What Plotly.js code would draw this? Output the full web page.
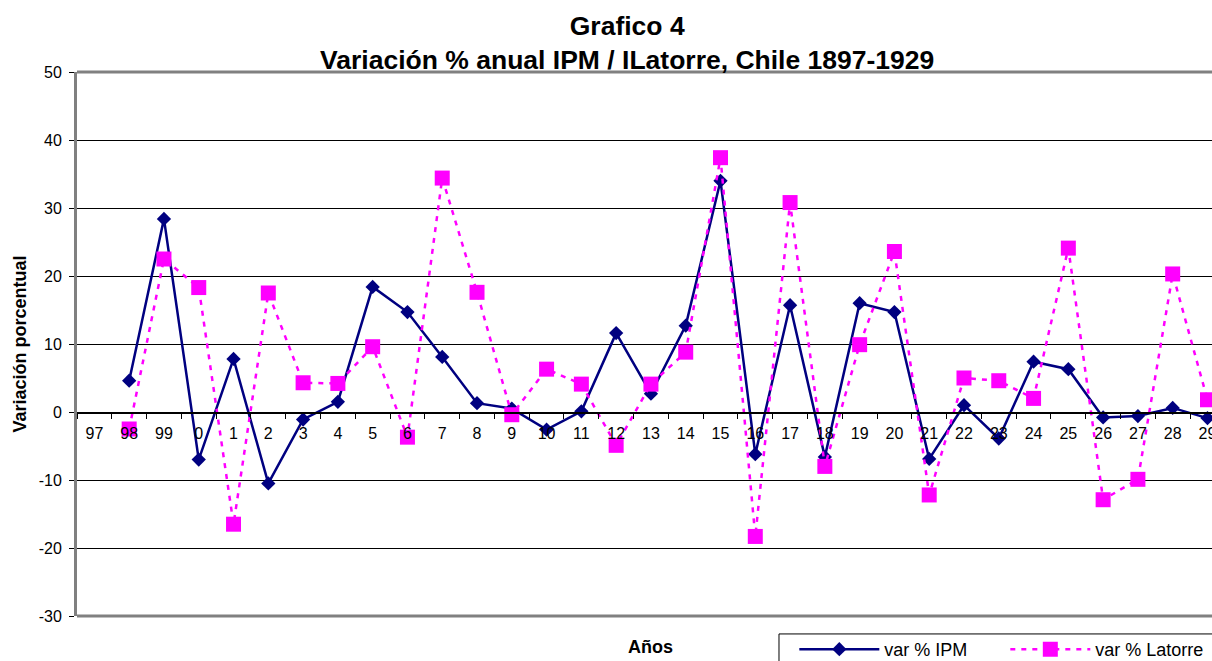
<!DOCTYPE html>
<html>
<head>
<meta charset="utf-8">
<script src="https://cdn.plot.ly/plotly-3.0.1.min.js"></script>
<style>html,body{margin:0;padding:0;background:#fff;}#chart{width:1212px;height:661px;}</style>
</head>
<body>
<div id="chart"></div>
<script>
// Years (tick labels)
const years = ['97','98','99','0','1','2','3','4','5','6','7','8','9','10','11','12','13','14','15','16','17','18','19','20','21','22','23','24','25','26','27','28','29'];
// var % IPM
const ipm = [null, 4.6, 28.4, -7.0, 7.8, -10.5, -1.1, 1.5, 18.4, 14.7, 8.1, 1.3, 0.5, -2.6, 0.1, 11.6, 2.7, 12.7, 34.0, -6.2, 15.7, -6.6, 16.0, 14.7, -6.9, 1.0, -3.9, 7.4, 6.3, -0.8, -0.6, 0.6, -0.9];
// var % Latorre
const latorre = [null, -2.5, 22.5, 18.3, -16.5, 17.5, 4.3, 4.2, 9.6, -3.7, 34.4, 17.6, -0.4, 6.3, 4.1, -4.9, 4.1, 8.8, 37.4, -18.3, 30.8, -8.0, 9.9, 23.6, -12.2, 5.0, 4.6, 2.0, 24.1, -12.9, -9.9, 20.3, 1.8];
// Y-axis tick values and labels
const yTickVals = [-30, -20, -10, 0, 10, 20, 30, 40, 50];
const yTickText = ['-30', '-20', '-10', '0', '10', '20', '30', '40', '50'];

const FONT = 'Liberation Sans, Arial, sans-serif';

const traces = [
  {
    x: years, y: ipm, name: 'var % IPM', type: 'scatter', mode: 'lines+markers',
    line: {color: '#000080', width: 2.5},
    marker: {symbol: 'diamond', size: 11, color: '#000080'},
    connectgaps: false
  },
  {
    x: years, y: latorre, name: 'var % Latorre', type: 'scatter', mode: 'lines+markers',
    line: {color: '#FF00FF', width: 2.5, dash: '5px,6px'},
    marker: {symbol: 'square', size: 15, color: '#FF00FF'},
    connectgaps: false
  }
];

const layout = {
  width: 1212, height: 661,
  margin: {l: 77, r: 0, t: 72, b: 45, autoexpand: false},
  paper_bgcolor: '#ffffff', plot_bgcolor: '#ffffff',
  font: {family: FONT, color: '#000000', size: 16},
  showlegend: true,
  title: {
    text: '<b>Grafico 4</b><br><b>Variación % anual IPM / ILatorre, Chile 1897-1929</b>',
    font: {family: FONT, size: 26.5, color: '#000000'},
    x: 0.5175, xanchor: 'center', xref: 'container',
    y: 0.9475, yanchor: 'top', yref: 'container'
  },
  xaxis: {
    type: 'category', categoryorder: 'array', categoryarray: years,
    range: [-0.5, 32.13],
    anchor: 'free', position: 0.375,
    showgrid: false, zeroline: false,
    showline: true, linecolor: '#000000', linewidth: 1.5,
    ticks: 'outside', tickson: 'boundaries', ticklen: 5, tickcolor: '#000000', tickwidth: 1,
    ticklabelstandoff: 6, tickangle: 0,
    tickfont: {family: FONT, size: 16, color: '#000000'},
    automargin: false,
    fixedrange: true
  },
  yaxis: {
    range: [-30, 50],
    tickmode: 'array', tickvals: yTickVals, ticktext: yTickText,
    showgrid: true, gridcolor: '#000000', gridwidth: 1,
    zeroline: false,
    showline: true, linecolor: '#808080', linewidth: 3,
    ticks: 'outside', ticklen: 5, tickcolor: '#000000', tickwidth: 1,
    ticklabelstandoff: 4,
    tickfont: {family: FONT, size: 16, color: '#000000'},
    title: {text: '<b>Variación porcentual</b>', font: {family: FONT, size: 18, color: '#000000'}, standoff: 8},
    automargin: false,
    fixedrange: true
  },
  legend: {
    orientation: 'h',
    x: 0.632, xanchor: 'left',
    y: -0.0276, yanchor: 'top',
    borderwidth: 0,
    bgcolor: 'rgba(0,0,0,0)',
    font: {family: FONT, size: 18, color: '#000000'},
    itemwidth: 80,
    entrywidth: 116,
    traceorder: 'normal'
  },
  annotations: [
    {text: '<b>Años</b>', xref: 'paper', yref: 'paper', x: 0.505, y: -0.057,
     xanchor: 'center', yanchor: 'middle', showarrow: false,
     font: {family: FONT, size: 18, color: '#000000'}}
  ],
  shapes: [
    {type: 'line', xref: 'paper', yref: 'paper', x0: 0, x1: 1, y0: 1, y1: 1, line: {color: '#808080', width: 3}, layer: 'above'},
    {type: 'line', xref: 'paper', yref: 'paper', x0: 0, x1: 1, y0: 0, y1: 0, line: {color: '#808080', width: 3}, layer: 'above'},
    {type: 'rect', xref: 'paper', yref: 'paper', x0: 0.6185, x1: 1.05, y0: -0.033, y1: -0.2, line: {color: '#000000', width: 1}, fillcolor: 'rgba(0,0,0,0)', layer: 'above'}
  ]
};

Plotly.newPlot('chart', traces, layout, {displayModeBar: false, staticPlot: true});
</script>
</body>
</html>
